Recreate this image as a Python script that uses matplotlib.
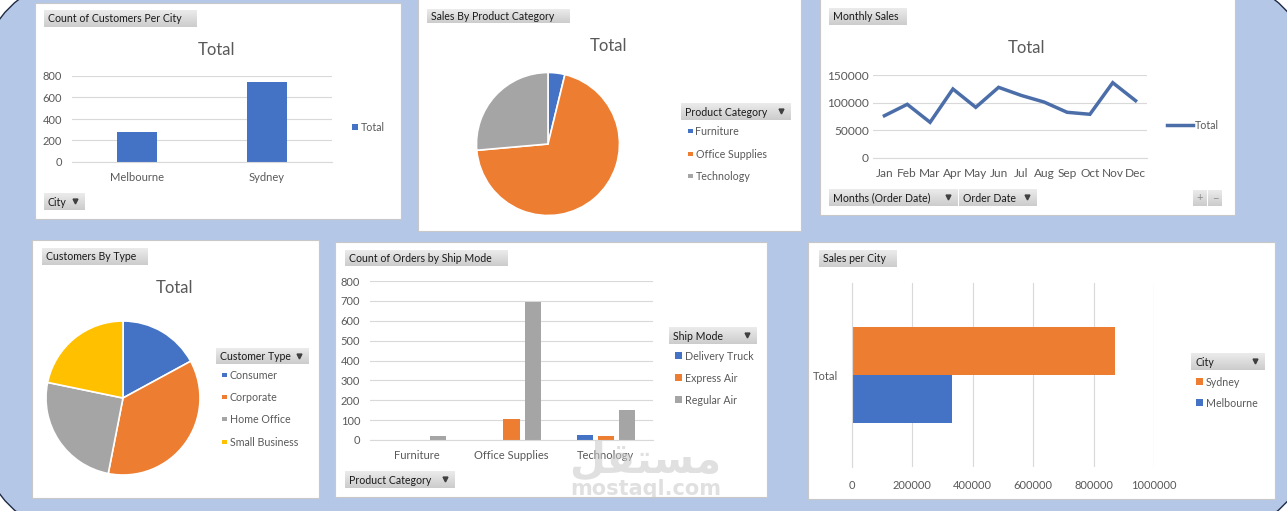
import matplotlib.pyplot as plt
from matplotlib.patches import Rectangle, FancyBboxPatch
from matplotlib.ticker import FuncFormatter
import numpy as np

plt.rcParams['font.family'] = ['Lato', 'DejaVu Sans']

# ---- data ----
cities = ['Melbourne', 'Sydney']
customers_per_city = [281, 744]

product_categories = ['Furniture', 'Office Supplies', 'Technology']
sales_share_by_category = [3.8, 69.8, 26.4]

months = ['Jan', 'Feb', 'Mar', 'Apr', 'May', 'Jun',
          'Jul', 'Aug', 'Sep', 'Oct', 'Nov', 'Dec']
monthly_sales = [76400, 97000, 64500, 124700, 91600, 127700,
                 113000, 101000, 82600, 79000, 136100, 103600]

customer_types = ['Consumer', 'Corporate', 'Home Office', 'Small Business']
customers_by_type = [175, 369, 258, 223]

ship_modes = ['Delivery Truck', 'Express Air', 'Regular Air']
orders_delivery_truck = [0, 0, 25]
orders_express_air = [0, 106, 22]
orders_regular_air = [20, 695, 151]

sales_city_names = ['Sydney', 'Melbourne']
sales_per_city = [870000, 330000]

# ---- styling ----
BLUE, ORANGE, GRAY, YELLOW = '#4472C4', '#ED7D31', '#A5A5A5', '#FFC000'
TXT = '#595959'
GRID = '#D9D9D9'
W, H = 1287, 511
plain = FuncFormatter(lambda v, p: f'{v:.0f}')

fig = plt.figure(figsize=(W / 100, H / 100), dpi=100)
fig.patch.set_facecolor('white')

bg = fig.add_axes([0, 0, 1, 1])
bg.axis('off')
bg.add_patch(FancyBboxPatch((-28, -30), 1349, 573,
                            boxstyle='round,pad=0,rounding_size=150',
                            fc='#B4C7E7', ec='#1F2A44', lw=1))

panels = [(35, 3, 401, 219), (418, -2, 801, 231), (820, -2, 1235, 215),
          (32, 240, 319, 498), (335, 242, 767, 497), (808, 242, 1275, 499)]
for x0, y0, x1, y1 in panels:
    bg.add_patch(Rectangle((x0, y0), x1 - x0, y1 - y0, fc='white', ec='#C8C8C8', lw=0.8))

grad = np.linspace(0.92, 0.80, 20).reshape(-1, 1)


def button(x0, y0, x1, y1, label, arrow=False):
    bg.imshow(grad, cmap='gray', vmin=0, vmax=1, extent=(x0, x1, y1, y0),
              aspect='auto', origin='upper', zorder=2)
    bg.text(x0 + 4, (y0 + y1) / 2 + 0.5, label, fontsize=7.6, color='#1A1A1A',
            va='center', ha='left', zorder=3)
    if arrow:
        bg.plot(x1 - 10, (y0 + y1) / 2, marker='v', ms=3.5, color='#404040', zorder=3)


def px_ax(x0, y0, x1, y1):
    return fig.add_axes([x0 / W, 1 - y1 / H, (x1 - x0) / W, (y1 - y0) / H])


def style_ax(ax, horizontal=False, size=8):
    for s in ax.spines.values():
        s.set_visible(False)
    if horizontal:
        ax.spines['left'].set_visible(True)
        ax.spines['left'].set_color(GRID)
        ax.grid(axis='x', color=GRID, lw=0.8)
    else:
        ax.spines['bottom'].set_visible(True)
        ax.spines['bottom'].set_color(GRID)
        ax.grid(axis='y', color=GRID, lw=0.8)
    ax.set_axisbelow(True)
    ax.tick_params(length=0, labelsize=size, colors=TXT)
    ax.set_facecolor('none')


def legend_item(x, y, label, color, size=6):
    bg.add_patch(Rectangle((x, y - size / 2), size, size, fc=color, ec='none', zorder=3))
    bg.text(x + size + 3, y + 0.5, label, fontsize=7.7, color=TXT, va='center', zorder=3)


# title buttons
button(44, 10, 197, 27, 'Count of Customers Per City')
button(427, 9, 570, 23, 'Sales By Product Category')
button(829, 8, 907, 25, 'Monthly Sales')
button(42, 248, 148, 265, 'Customers By Type')
button(345, 250, 508, 266, 'Count of Orders by Ship Mode')
button(819, 250, 897, 267, 'Sales per City')

# field buttons
button(44, 193, 85, 210, 'City', arrow=True)
button(681, 103, 791, 120, 'Product Category', arrow=True)
button(829, 189, 958, 206, 'Months (Order Date)', arrow=True)
button(959, 189, 1037, 206, 'Order Date', arrow=True)
button(216, 348, 309, 364, 'Customer Type', arrow=True)
button(669, 327, 757, 344, 'Ship Mode', arrow=True)
button(345, 471, 455, 488, 'Product Category', arrow=True)
button(1191, 353, 1265, 370, 'City', arrow=True)
for bx, sym in [(1193, '+'), (1208, '−')]:
    bg.imshow(grad, cmap='gray', vmin=0, vmax=1, extent=(bx, bx + 14, 206, 190),
              aspect='auto', origin='upper', zorder=2)
    bg.text(bx + 7, 198, sym, fontsize=8, color='#8C8C8C', ha='center', va='center', zorder=3)

# chart titles
for tx, ty in [(217, 50), (608, 46), (1026, 48), (175, 288)]:
    bg.text(tx, ty, 'Total', fontsize=12, color=TXT, ha='center', va='center', zorder=3)

# legends
legend_item(352, 127, 'Total', BLUE)
for y, lab, c in zip([131, 154, 176], product_categories, [BLUE, ORANGE, GRAY]):
    legend_item(688, y, lab, c, size=4.5)
for y, lab, c in zip([375, 397, 419, 442], customer_types, [BLUE, ORANGE, GRAY, YELLOW]):
    legend_item(222, y, lab, c, size=4.5)
for y, lab, c in zip([356, 378, 400], ship_modes, [BLUE, ORANGE, GRAY]):
    legend_item(675, y, lab, c, size=7)
for y, lab, c in zip([382, 403], sales_city_names, [ORANGE, BLUE]):
    legend_item(1196, y, lab, c, size=7)
bg.plot([1167, 1193], [125, 125], color='#4B6EA9', lw=2.5, zorder=3)
bg.text(1195, 125.5, 'Total', fontsize=7.7, color=TXT, va='center', zorder=3)

bg.set_xlim(0, W)
bg.set_ylim(H, 0)

# ---- chart 1: customers per city ----
ax1 = px_ax(72, 76, 332, 162)
ax1.bar(range(len(cities)), customers_per_city, width=0.315, color=BLUE)
ax1.set_xlim(-0.5, 1.5)
ax1.set_ylim(0, 800)
ax1.set_yticks(range(0, 801, 200))
ax1.set_xticks(range(len(cities)), cities)
style_ax(ax1)
ax1.tick_params(axis='y', pad=7)
ax1.tick_params(axis='x', pad=7)

# ---- chart 2: sales by product category ----
ax2 = px_ax(548 - 71.5, 144 - 71.5, 548 + 71.5, 144 + 71.5)
ax2.pie(sales_share_by_category, colors=[BLUE, ORANGE, GRAY], startangle=90,
        counterclock=False, wedgeprops=dict(edgecolor='white', linewidth=1.2))
ax2.set_xlim(-1, 1)
ax2.set_ylim(-1, 1)

# ---- chart 3: monthly sales ----
ax3 = px_ax(873, 75, 1147, 158)
ax3.plot(range(len(months)), monthly_sales, color='#4B6EA9', lw=2.5,
         solid_joinstyle='miter', clip_on=False)
ax3.set_xlim(-0.5, 11.5)
ax3.set_ylim(0, 150000)
ax3.set_yticks([0, 50000, 100000, 150000])
ax3.yaxis.set_major_formatter(plain)
ax3.set_xticks(range(len(months)), months)
style_ax(ax3, size=8.6)
ax3.tick_params(axis='y', pad=3)
ax3.tick_params(axis='x', pad=7.5)

# ---- chart 4: customers by type ----
ax4 = px_ax(123 - 77, 398 - 77, 123 + 77, 398 + 77)
ax4.pie(customers_by_type, colors=[BLUE, ORANGE, GRAY, YELLOW], startangle=90,
        counterclock=False, wedgeprops=dict(edgecolor='white', linewidth=1.2))
ax4.set_xlim(-1, 1)
ax4.set_ylim(-1, 1)

# ---- chart 5: orders by ship mode ----
ax5 = px_ax(370, 281, 653, 440)
x = np.arange(len(product_categories))
bw, off = 0.17, 0.223
ax5.bar(x - off, orders_delivery_truck, width=bw, color=BLUE)
ax5.bar(x, orders_express_air, width=bw, color=ORANGE)
ax5.bar(x + off, orders_regular_air, width=bw, color=GRAY)
ax5.set_xlim(-0.5, 2.5)
ax5.set_ylim(0, 800)
ax5.set_yticks(range(0, 801, 100))
ax5.set_xticks(x, product_categories)
style_ax(ax5)
ax5.tick_params(axis='y', pad=7)
ax5.tick_params(axis='x', pad=7)

# ---- chart 6: sales per city ----
ax6 = px_ax(852, 283, 1154, 467)
ax6.barh([0.13, -0.13], sales_per_city, height=0.26, color=[ORANGE, BLUE])
ax6.set_ylim(-0.5, 0.5)
ax6.set_xlim(0, 1000000)
ax6.set_xticks(range(0, 1000001, 200000))
ax6.xaxis.set_major_formatter(plain)
ax6.set_yticks([0], ['Total'])
style_ax(ax6, horizontal=True)
ax6.tick_params(axis='y', pad=10)
ax6.tick_params(axis='x', pad=9)

# watermark
fig.text(645 / W, 1 - 460 / H, '\ufede\ufed8\ufe98\ufeb4\ufee3', fontsize=30,
         fontweight='bold', family=['DejaVu Sans'], color='#C8C8C8', alpha=0.55,
         ha='center', va='center')
fig.text(646 / W, 1 - 489 / H, 'mostaql.com', fontsize=15, fontweight='bold',
         family=['DejaVu Sans'], color='#C8C8C8', alpha=0.55, ha='center', va='center')

fig.savefig('out.png', dpi=100)
